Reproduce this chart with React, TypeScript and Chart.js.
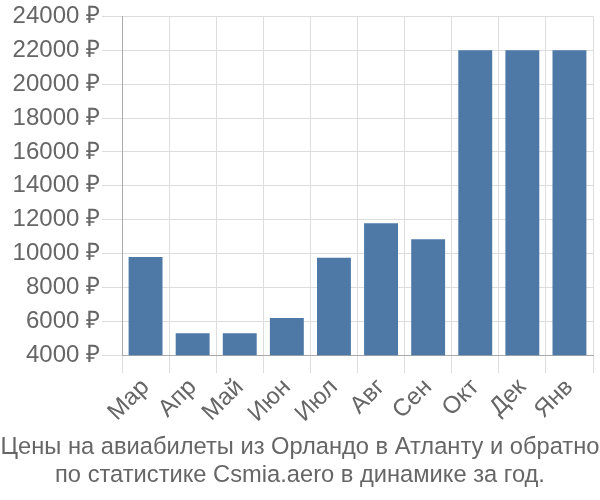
import React, { useEffect, useRef } from "react";
import { Chart, registerables } from "chart.js";

Chart.register(...registerables);

const categories = ["Мар", "Апр", "Май", "Июн", "Июл", "Авг", "Сен", "Окт", "Дек", "Янв"];
const prices = [9800, 5300, 5300, 6200, 9750, 11800, 10850, 22000, 22000, 22000];
const titleLines = [
  "Цены на авиабилеты из Орландо в Атланту и обратно",
  "по статистике Csmia.aero в динамике за год.",
];

export default function App() {
  const ref = useRef<HTMLCanvasElement | null>(null);
  useEffect(() => {
    document.body.style.margin = "0";
    const ctx = ref.current!;
    const font = "'Liberation Sans', Arial, sans-serif";
    const chart = new Chart(ctx, {
      type: "bar",
      data: {
        labels: categories,
        datasets: [
          {
            data: prices,
            backgroundColor: "#4e79a7",
            borderWidth: 0,
            barPercentage: 0.72,
            categoryPercentage: 1,
          },
        ],
      },
      options: {
        animation: false,
        responsive: false,
        maintainAspectRatio: false,
        layout: { padding: { left: 0, right: 0, top: 4, bottom: 0 } },
        plugins: {
          legend: { display: false },
          tooltip: { enabled: false },
          title: {
            display: true,
            position: "bottom",
            text: titleLines,
            color: "#666",
            font: { family: font, size: 23.7, weight: "normal" },
            padding: { top: 5, bottom: 10 },
            lineHeight: 1.07,
          },
        },
        scales: {
          x: {
            offset: true,
            grid: {
              display: true,
              offset: true,
              color: "#ddd",
              lineWidth: 1,
              tickLength: 18,
              drawTicks: true,
            },
            border: { display: true, color: "#aaa", width: 1 },
            ticks: {
              color: "#666",
              font: { family: font, size: 24 },
              maxRotation: 45,
              minRotation: 45,
              padding: 0,
              autoSkip: false,
            },
          },
          y: {
            min: 4000,
            max: 24000,
            grid: { color: "#ddd", lineWidth: 1, tickLength: 20 },
            border: { display: true, color: "#aaa", width: 1 },
            afterFit: (scale: any) => {
              scale.width = 122;
            },
            ticks: {
              stepSize: 2000,
              color: "#666",
              font: { family: font, size: 24 },
              padding: 2,
              callback: (v: any) => `${v} ₽`,
            },
          },
          yRight: {
            position: "right",
            min: 4000,
            max: 24000,
            grid: { display: false },
            border: { display: false },
            ticks: { display: false },
            afterFit: (scale: any) => {
              scale.width = 7;
            },
          },
        },
      },
    });
    return () => chart.destroy();
  }, []);
  return (
    <div style={{ width: 600, height: 500 }}>
      <canvas ref={ref} width={600} height={500} />
    </div>
  );
}
